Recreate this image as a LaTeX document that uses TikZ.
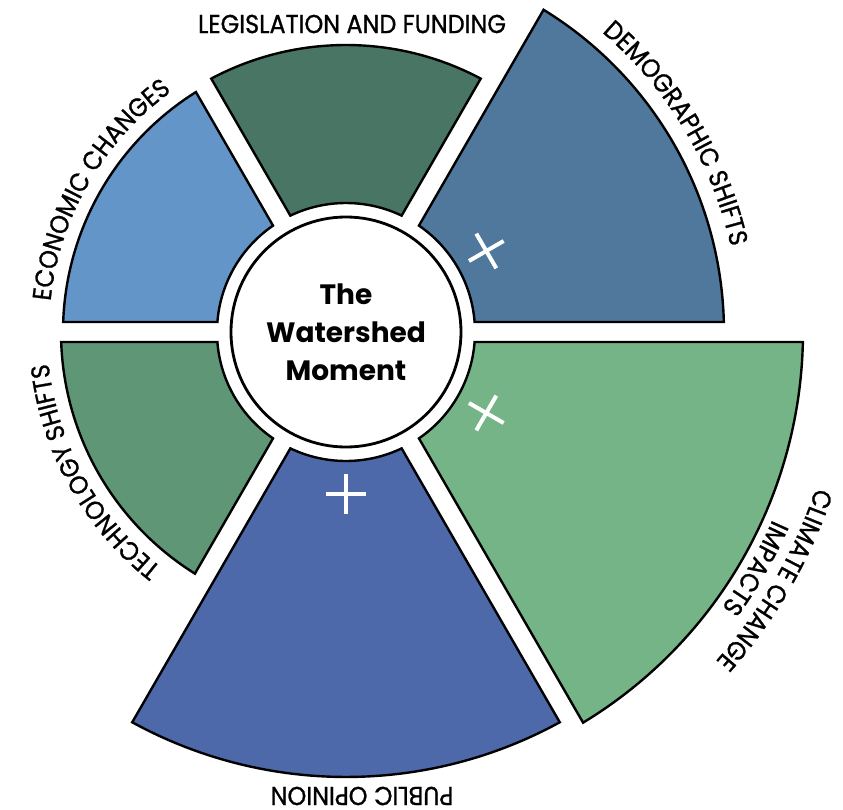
\documentclass[tikz,border=0pt]{standalone}
\usepackage{fontspec}
\setmainfont{Poppins}
\newfontfamily\labelfont[FakeStretch=0.92,FakeBold=1]{Poppins}
\usetikzlibrary{decorations.text}
\usepackage{xcolor}
\definecolor{demoblue}{RGB}{79,120,156}
\definecolor{lawgreen}{RGB}{73,118,100}
\definecolor{econblue}{RGB}{100,149,200}
\definecolor{techgreen}{RGB}{94,150,118}
\definecolor{publicblue}{RGB}{77,105,170}
\definecolor{climategreen}{RGB}{117,180,135}
\newcommand{\InnerRadius}{129}
\newcommand{\HalfGap}{10}
\newcommand{\ringfont}{\labelfont\fontsize{13}{15}\selectfont}
\tikzset{
    sectorbox/.style={
        draw=black,
        line width=1.2pt,
        line join=miter
    },
    hubcircle/.style={
        circle,
        draw=black,
        line width=1.4pt,
        fill=white,
        minimum size=115pt,
        align=center,
        font=\bfseries\fontsize{14}{19}\selectfont
    },
    crossmark/.style={
        draw=white,
        line width=2pt
    },
    ringlabel/.style={
        font=\ringfont,
        inner sep=0pt
    },
    arclabel/.style={
        decorate,
        decoration={
            text along path,
            text align=center
        }
    }
}

\begin{document}
\begin{tikzpicture}[x=0.5pt,y=0.5pt]
\useasboundingbox (-346,-478) rectangle (497,332);

% ---------------------------------------------------------
% Sectors (start angle / outer radius / colour)
% ---------------------------------------------------------
\foreach \a/\ro/\col in {
    0/378/demoblue,
    60/287/lawgreen,
    120/283/econblue,
    180/285/techgreen,
    240/445/publicblue,
    300/457/climategreen%
}
{
    % angle shift so that the gaps keep a constant width
    \pgfmathsetmacro{\dinner}{asin(\HalfGap/\InnerRadius)}
    \pgfmathsetmacro{\douter}{asin(\HalfGap/\ro)}

    \draw[sectorbox, fill=\col]
        (\a+\dinner:\InnerRadius) -- (\a+\douter:\ro)
        arc[start angle=\a+\douter, end angle=\a+60-\douter, radius=\ro]
        -- (\a+60-\dinner:\InnerRadius)
        arc[start angle=\a+60-\dinner, end angle=\a+\dinner, radius=\InnerRadius]
        -- cycle;
}

% ---------------------------------------------------------
% Centre
% ---------------------------------------------------------
\node[hubcircle] (hub) at (0,0) {The\\Watershed\\Moment};

% ---------------------------------------------------------
% White crosses
% ---------------------------------------------------------
\foreach \m in {30,-30,-90}
{
    \draw[crossmark] (\m:162) ++(\m:20) -- ++(\m+180:40);
    \draw[crossmark] (\m:162) ++(\m+90:20) -- ++(\m-90:40);
}

% ---------------------------------------------------------
% Labels along the rim (clockwise, tops outward)
% ---------------------------------------------------------
\foreach \m/\r/\txt in {
    31/394/DEMOGRAPHIC SHIFTS,
    150/297/ECONOMIC CHANGES,
    209/299/TECHNOLOGY SHIFTS,
    -30/495/CLIMATE CHANGE,
    -30/466/IMPACTS%
}
{
    \path[arclabel, decoration={text={|\ringfont|\txt}}]
        (\m+45:\r) arc[start angle=\m+45, end angle=\m-45, radius=\r];
}

\node[ringlabel] (lawlabel) at (6,308) {LEGISLATION AND FUNDING};
\node[ringlabel, rotate=180] (publiclabel) at (16,-464) {PUBLIC OPINION};

\end{tikzpicture}
\end{document}
